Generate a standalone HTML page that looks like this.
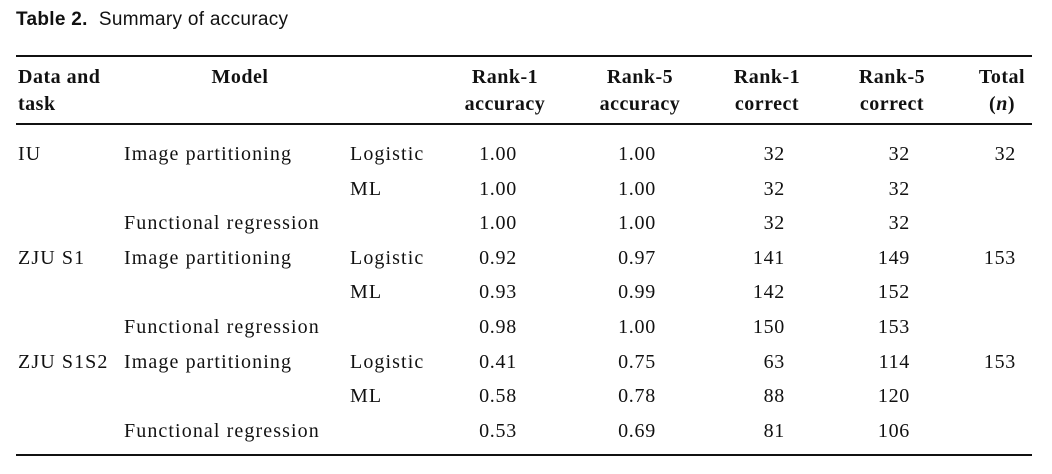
<!DOCTYPE html>
<html><head><meta charset="utf-8"><style>
body{margin:0;width:1052px;height:474px;background:#fff;position:relative;overflow:hidden;color:#111}
.t{position:absolute;font-family:"Liberation Sans",sans-serif;font-size:19px;left:16px;top:9px;letter-spacing:0.3px}
.r{position:absolute;left:16px;width:1016px;height:2px;background:#111}
.c{position:absolute;font-family:"Liberation Serif",serif;font-size:20px;white-space:nowrap;line-height:20px;letter-spacing:0.7px}
.h{font-weight:bold;text-align:center;line-height:27px;letter-spacing:0.5px}
.n{text-align:center;width:100px}
.w{letter-spacing:1.1px}
</style></head><body>
<div class="t"><b>Table 2.</b>&nbsp; Summary of accuracy</div>
<div class="r" style="top:55px"></div>
<div class="r" style="top:123px"></div>
<div class="r" style="top:454px"></div>
<div class="c h" style="left:18px;top:64px;text-align:left">Data and<br>task</div>
<div class="c h" style="left:170px;width:140px;top:64px">Model</div>
<div class="c h" style="left:440px;width:130px;top:64px">Rank-1<br>accuracy</div>
<div class="c h" style="left:575px;width:130px;top:64px">Rank-5<br>accuracy</div>
<div class="c h" style="left:702px;width:130px;top:64px">Rank-1<br>correct</div>
<div class="c h" style="left:827px;width:130px;top:64px">Rank-5<br>correct</div>
<div class="c h" style="left:962px;width:80px;top:64px">Total<br>(<i>n</i>)</div>
<div id="rows"></div>
<script>
var d=[["IU","Image partitioning","Logistic","1.00","1.00","32","32","32"],
["","","ML","1.00","1.00","32","32",""],
["","Functional regression","","1.00","1.00","32","32",""],
["ZJU S1","Image partitioning","Logistic","0.92","0.97","141","149","153"],
["","","ML","0.93","0.99","142","152",""],
["","Functional regression","","0.98","1.00","150","153",""],
["ZJU S1S2","Image partitioning","Logistic","0.41","0.75","63","114","153"],
["","","ML","0.58","0.78","88","120",""],
["","Functional regression","","0.53","0.69","81","106",""]];
var h="";
d.forEach(function(r,i){var y=144+i*34.6;
h+='<div class="c w" style="left:18px;top:'+y+'px">'+r[0]+'</div>';
h+='<div class="c w" style="left:124px;top:'+y+'px">'+r[1]+'</div>';
h+='<div class="c w" style="left:350px;top:'+y+'px">'+r[2]+'</div>';
h+='<div class="c n" style="left:448px;top:'+y+'px">'+r[3]+'</div>';
h+='<div class="c n" style="left:587px;top:'+y+'px">'+r[4]+'</div>';
h+='<div class="c" style="right:267px;top:'+y+'px">'+r[5]+'</div>';
h+='<div class="c" style="right:142px;top:'+y+'px">'+r[6]+'</div>';
h+='<div class="c" style="right:36px;top:'+y+'px">'+r[7]+'</div>';});
document.getElementById("rows").innerHTML=h;
</script>
</body></html>
